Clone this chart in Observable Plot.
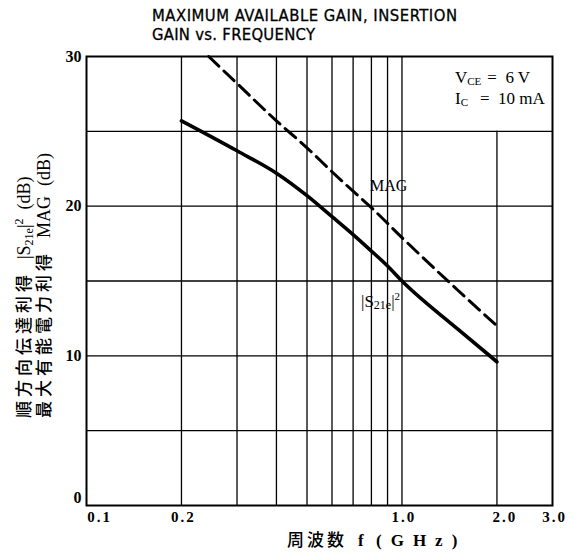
<!DOCTYPE html>
<html>
<head>
<meta charset="utf-8">
<script src="https://cdn.jsdelivr.net/npm/d3@7"></script>
<script src="https://cdn.jsdelivr.net/npm/@observablehq/plot@0.6"></script>
<style>
  html, body { margin: 0; padding: 0; background: #fff; }
</style>
</head>
<body>
<div id="chart"></div>
<script>
// ---- data ----
const freqMAG = [0.244, 0.3, 0.4, 0.5, 0.6, 0.7, 0.8, 1.0, 1.5, 2.0];
const gainMAG = [30.0, 28.2, 25.7, 23.9, 22.3, 21.0, 19.9, 17.9, 14.4, 12.0];
const freqS21 = [0.2, 0.3, 0.4, 0.5, 0.6, 0.7, 0.8, 0.9, 1.0, 1.5, 2.0];
const gainS21 = [25.7, 23.7, 22.2, 20.7, 19.3, 18.1, 17.0, 16.0, 15.0, 11.8, 9.6];

const gridXFull = [0.2, 0.3, 0.4, 0.5, 0.6, 0.7, 0.8, 0.9, 1.0];
const gridXShort = [2.0];
const gridY = [5, 10, 15, 20, 25];
const xTicksMid = [0.2, 0.5, 1.0, 3.0];
const xTickFirst = [0.1];
const xTickTwo = [2.0];
const yTicks = [10, 20, 30];
const yTickZero = [0];

const magData = freqMAG.map((f, i) => ({f, g: gainMAG[i]}));
const s21Data = freqS21.map((f, i) => ({f, g: gainS21[i]}));

const fmt = d => d.toFixed(1);
const serif = "'Liberation Serif', 'Times New Roman', serif";
const xAxisOpts = {tickSize: 0, tickPadding: 6, tickFormat: fmt, fontSize: 15, fontWeight: "bold", fontFamily: serif, label: null};
const yAxisOpts = {tickSize: 0, tickPadding: 5, fontSize: 16, fontWeight: "bold", fontFamily: serif, label: null};

const plot = Plot.plot({
  width: 581,
  height: 560,
  marginLeft: 86,
  marginRight: 29,
  marginTop: 56,
  marginBottom: 55,
  style: {background: "#fff", color: "#000", overflow: "visible"},
  x: {type: "log", domain: [0.1, 3], label: null},
  y: {domain: [0, 30], label: null},
  marks: [
    Plot.ruleX(gridXFull, {stroke: "#000", strokeWidth: 1.3}),
    Plot.ruleX(gridXShort, {y1: 0, y2: 25, stroke: "#000", strokeWidth: 1.3}),
    Plot.ruleY(gridY, {stroke: "#000", strokeWidth: 1.3}),
    Plot.frame({stroke: "#000", strokeWidth: 2}),
    Plot.line(magData, {x: "f", y: "g", stroke: "#000", strokeWidth: 3, strokeDasharray: "14,7", curve: "monotone-x"}),
    Plot.line(s21Data, {x: "f", y: "g", stroke: "#000", strokeWidth: 3.6, curve: "monotone-x"}),
    Plot.axisX(xTicksMid, {...xAxisOpts, dx: 2}),
    Plot.axisX(xTickFirst, {...xAxisOpts, dx: 13}),
    Plot.axisX(xTickTwo, {...xAxisOpts, dx: 8}),
    Plot.axisY(yTicks, yAxisOpts),
    Plot.axisY(yTickZero, {...yAxisOpts, dy: -8})
  ]
});

document.getElementById("chart").appendChild(plot);
const svg = d3.select(plot.tagName.toLowerCase() === "svg" ? plot : plot.querySelector("svg"));

// letter spacing for x tick labels
svg.selectAll("g[aria-label='x-axis tick label'] text").attr("letter-spacing", "2px");

const ann = svg.append("g").attr("text-anchor", "start").attr("fill", "#000");

// Title
const titleFont = "'Liberation Sans Narrow', 'DejaVu Sans Condensed', 'Liberation Sans', sans-serif";
ann.append("text").attr("x", 152).attr("y", 21)
  .attr("font-family", titleFont).attr("font-size", 16.5)
  .attr("stroke", "#000").attr("stroke-width", 0.3)
  .attr("textLength", 305).attr("lengthAdjust", "spacing")
  .text("MAXIMUM AVAILABLE GAIN, INSERTION");
ann.append("text").attr("x", 152).attr("y", 39.5)
  .attr("font-family", titleFont).attr("font-size", 16.5)
  .attr("stroke", "#000").attr("stroke-width", 0.3)
  .attr("textLength", 163).attr("lengthAdjust", "spacing")
  .text("GAIN vs. FREQUENCY");

// Conditions box text
const cond1 = ann.append("text").attr("x", 455).attr("y", 83)
  .attr("font-family", serif).attr("font-size", 17);
cond1.append("tspan").text("V");
cond1.append("tspan").attr("font-size", 11).attr("dy", 2).text("CE");
cond1.append("tspan").attr("dy", -2).attr("dx", 6).text("=  6 V");
const cond2 = ann.append("text").attr("x", 455).attr("y", 104)
  .attr("font-family", serif).attr("font-size", 17);
cond2.append("tspan").text("I");
cond2.append("tspan").attr("font-size", 11).attr("dy", 2).text("C");
cond2.append("tspan").attr("dy", -2).attr("dx", 12).text("=  10 mA");

// Curve labels
ann.append("text").attr("x", 370).attr("y", 191)
  .attr("font-family", serif).attr("font-size", 16).text("MAG");
const sl = ann.append("text").attr("x", 361).attr("y", 307)
  .attr("font-family", serif).attr("font-size", 17);
sl.append("tspan").text("|S");
sl.append("tspan").attr("font-size", 12).attr("dy", 2).text("21e");
sl.append("tspan").attr("dy", -2).text("|");
sl.append("tspan").attr("font-size", 11).attr("dy", -7).text("2");

// X axis title
const cjk = "'Noto Sans CJK JP', sans-serif";
const xt = ann.append("text").attr("y", 546).attr("font-size", 17);
xt.append("tspan").attr("x", 287).attr("font-family", cjk).attr("font-weight", 500)
  .attr("letter-spacing", "3px").text("周波数");
xt.append("tspan").attr("x", 358).attr("font-family", serif).attr("font-weight", "bold").text("f");
xt.append("tspan").attr("x", 376).attr("font-family", serif).attr("font-weight", "bold")
  .attr("letter-spacing", "9px").text("(GHz)");

// Y axis title (two rotated lines)
function yLine(baseX, cjkText, parts) {
  const t = ann.append("text")
    .attr("transform", `translate(${baseX},418) rotate(-90)`)
    .attr("font-size", 17);
  t.append("tspan").attr("font-family", cjk).attr("font-weight", 500)
    .attr("letter-spacing", "4px").text(cjkText);
  parts(t);
}
yLine(30, "順方向伝達利得", t => {
  t.append("tspan").attr("dx", 12).attr("font-family", serif).attr("font-size", 18).text("|S");
  t.append("tspan").attr("font-family", serif).attr("font-size", 12).attr("dy", 3).text("21e");
  t.append("tspan").attr("font-family", serif).attr("font-size", 18).attr("dy", -3).text("|");
  t.append("tspan").attr("font-family", serif).attr("font-size", 12).attr("dy", -7).text("2");
  t.append("tspan").attr("font-family", serif).attr("font-size", 18).attr("dy", 7).attr("dx", 9).text("(dB)");
});
yLine(50, "最大有能電力利得", t => {
  t.append("tspan").attr("dx", 12).attr("font-family", serif).attr("font-size", 18).text("MAG");
  t.append("tspan").attr("font-family", serif).attr("font-size", 18).attr("dx", 10).text("(dB)");
});
</script>
</body>
</html>
